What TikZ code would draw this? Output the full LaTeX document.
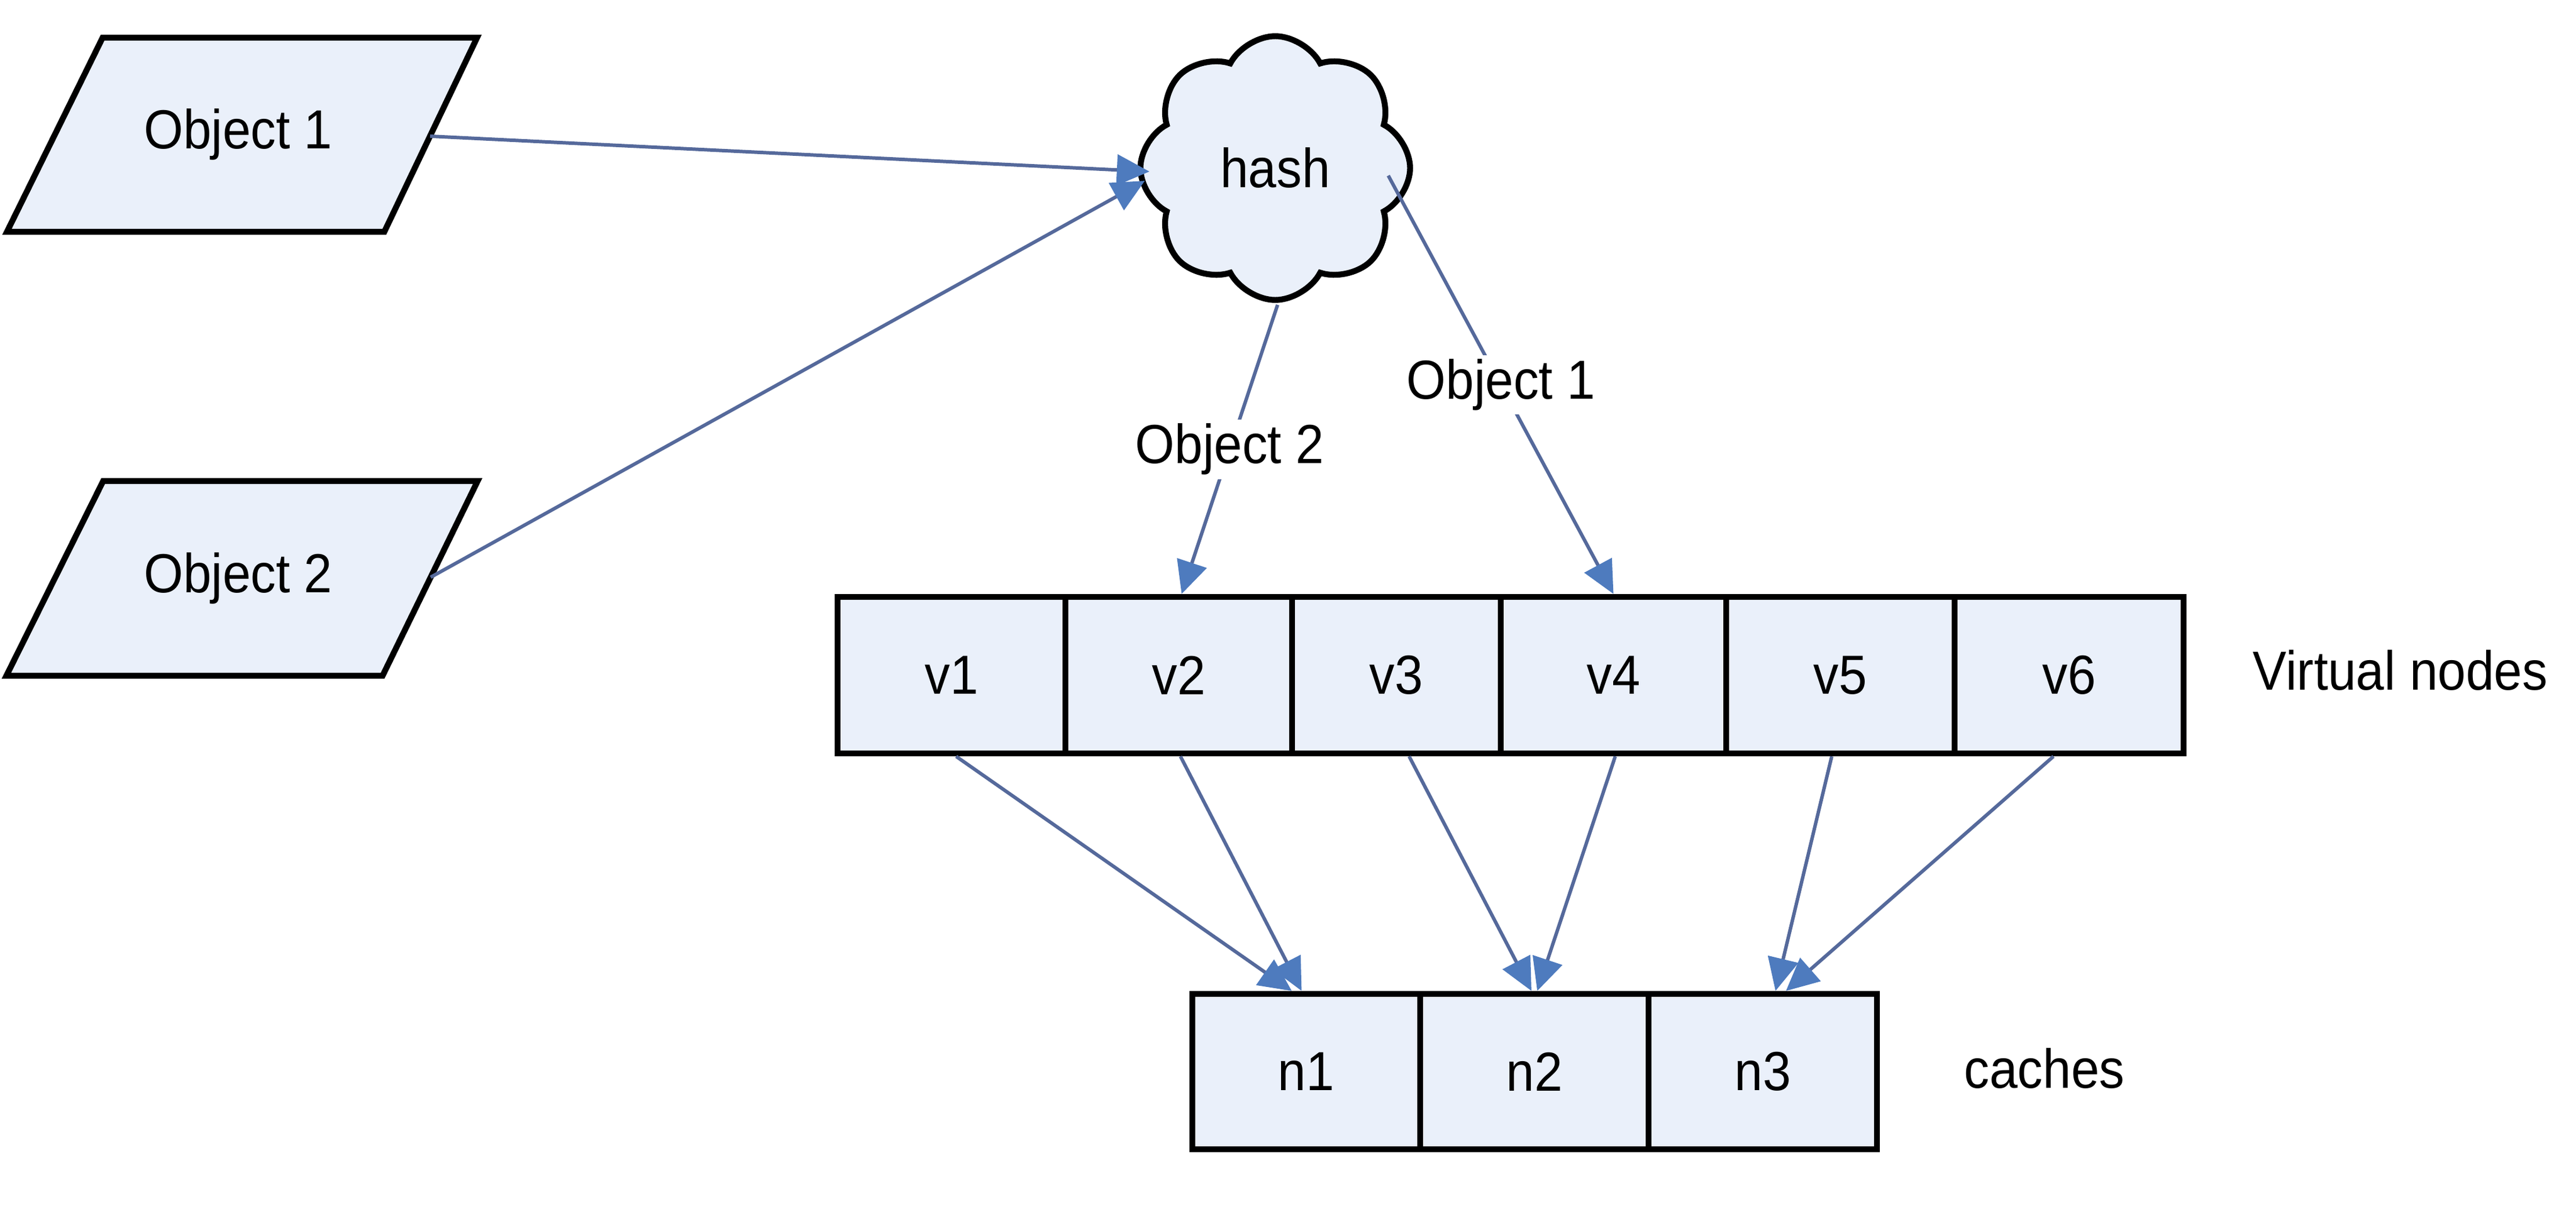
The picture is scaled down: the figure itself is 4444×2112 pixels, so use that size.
\documentclass[tikz,border=0pt]{standalone}
\usepackage{fontspec}
\setmainfont{Liberation Sans}[FakeStretch=0.92]
\usetikzlibrary{shapes.symbols,arrows.meta,calc}
\definecolor{boxfill}{HTML}{EAF0FA}
\definecolor{linec}{HTML}{55699B}
\definecolor{headc}{HTML}{4E7BBE}
\tikzset{
  txt/.style={font=\fontsize{27}{32}\selectfont},
  parabox/.style={draw=black, line width=2.9pt, fill=boxfill, line join=miter},
  cell/.style={txt, rectangle, draw=black, line width=2.9pt, fill=boxfill, inner sep=0pt},
  vcell/.style={cell, minimum height=2.70cm},
  ncell/.style={cell, minimum height=2.68cm},
  conn/.style={draw=linec, line width=1.7pt, -{Triangle[length=16pt,width=15pt,color=headc]}},
  elabel/.style={txt, fill=white, inner sep=2pt},
  plain/.style={txt, inner sep=0pt}
}
\begin{document}
\begin{tikzpicture}[x=0.01cm,y=-0.01cm]
\useasboundingbox[fill=white] (0,0) rectangle (4444,2112);

% parallelograms
\draw[parabox] (177,65) -- (823,65) -- (663,400) -- (12,400) -- cycle;
\node[plain] (obj1) at (411,232) {Object 1};
\coordinate (obj1e) at (742,235);
\draw[parabox] (178,830) -- (824,830) -- (660,1166) -- (11,1166) -- cycle;
\node[plain] (obj2) at (411,998) {Object 2};
\coordinate (obj2e) at (743,996);

\node[txt, cloud, cloud puffs=8, cloud puff arc=125, cloud ignores aspect,
      draw=black, line width=2.9pt, fill=boxfill,
      minimum width=4.65cm, minimum height=4.55cm] (hash) at (2200,290) {hash};

\node[vcell, minimum width=3.93cm] (v1) at (1641.5,1165) {v1};
\node[vcell, minimum width=3.91cm] (v2) at (2033.5,1165) {v2};
\node[vcell, minimum width=3.60cm] (v3) at (2409,1165) {v3};
\node[vcell, minimum width=3.89cm] (v4) at (2783.5,1165) {v4};
\node[vcell, minimum width=3.94cm] (v5) at (3175,1165) {v5};
\node[vcell, minimum width=3.95cm] (v6) at (3569.5,1165) {v6};

\node[ncell, minimum width=3.93cm] (n1) at (2253.5,1849) {n1};
\node[ncell, minimum width=3.94cm] (n2) at (2647,1849) {n2};
\node[ncell, minimum width=3.94cm] (n3) at (3041,1849) {n3};

\node[plain, anchor=base] (vlab) at (4141,1190) {Virtual nodes};
\node[plain, anchor=base] (clab) at (3527,1877) {caches};

\draw[conn] (obj1e) -- ($(hash.center)+(-217,6)$);
\draw[conn] (obj2e) -- ($(hash.center)+(-225,22)$);
\draw[conn] ($(hash.center)+(4,236)$) -- node[elabel] {Object 2} ($(v2.north)+(5,0)$);
\draw[conn] ($(hash.center)+(195,13)$) -- node[elabel] {Object 1} (v4.north);

\draw[conn] ($(v1.south)+(8,0)$) -- ($(n1.north)+(-25,0)$);
\draw[conn] ($(v2.south)+(3,0)$) -- ($(n1.north)+(-8,0)$);
\draw[conn] ($(v3.south)+(22,0)$) -- ($(n2.north)+(-5,0)$);
\draw[conn] ($(v4.south)+(3,0)$) -- ($(n2.north)+(5,0)$);
\draw[conn] ($(v5.south)+(-15,0)$) -- ($(n3.north)+(22,0)$);
\draw[conn] ($(v6.south)+(-27,0)$) -- ($(n3.north)+(40,0)$);
\end{tikzpicture}
\end{document}
